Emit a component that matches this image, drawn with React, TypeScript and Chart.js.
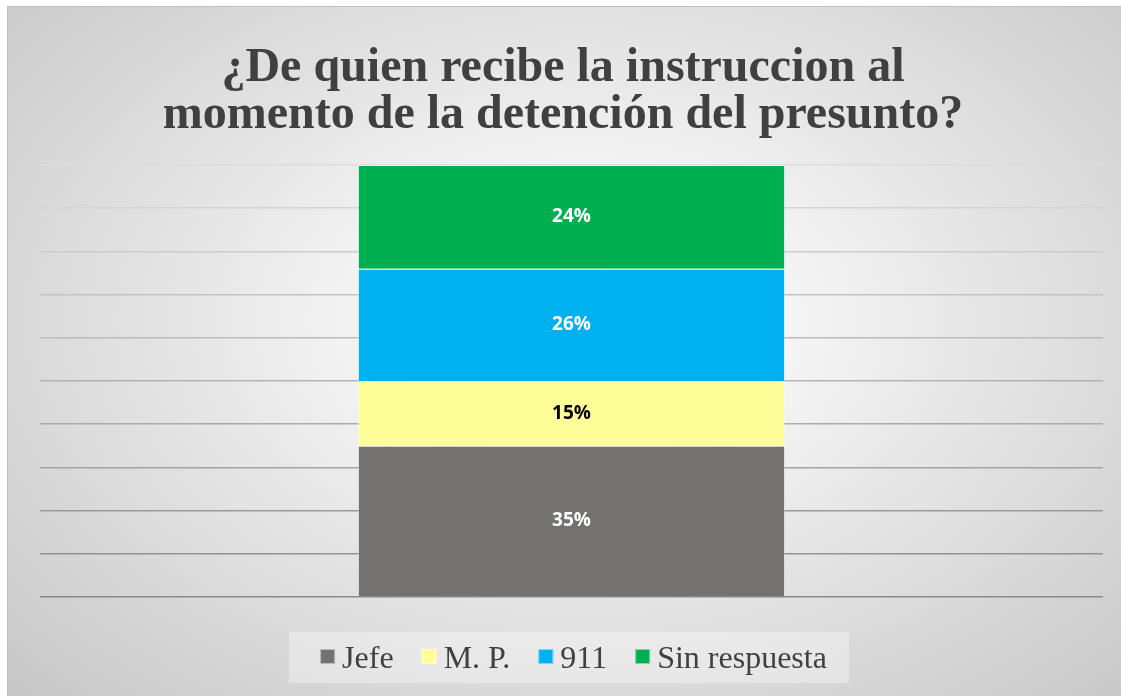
import React, { useEffect, useRef } from "react";
import { Chart, registerables } from "chart.js";

Chart.register(...registerables);

const titleLines = ["¿De quien recibe la instruccion al", "momento de la detención del presunto?"];
const categories = [""];
const seriesNames = ["Jefe", "M. P.", "911", "Sin respuesta"];
const seriesValues = [[35], [15], [26], [24]];
const seriesColors = ["#767171", "#FFFF99", "#00B0F0", "#00B050"];
const labelColors = ["#FFFFFF", "#000000", "#FFFFFF", "#FFFFFF"];
const yTicks = [0, 10, 20, 30, 40, 50, 60, 70, 80, 90, 100];

const CW = 1127;
const CH = 698;

function lerpGrey(t: number) {
  const a = 0x8a, b = 0xdc;
  const v = Math.round(a + (b - a) * t);
  return `rgb(${v},${v},${v})`;
}

const decorPlugin = {
  id: "decor",
  beforeDraw(chart: any) {
    const ctx = chart.ctx;
    ctx.save();
    ctx.fillStyle = "rgba(255,255,255,0.35)";
    ctx.fillRect(281, 625, 560, 51);
    ctx.restore();
  },
  afterDraw(chart: any) {
    const ctx = chart.ctx;
    ctx.save();
    ctx.fillStyle = "#404040";
    ctx.font = "bold 48px 'Liberation Serif', 'Times New Roman', serif";
    ctx.textAlign = "center";
    ctx.textBaseline = "alphabetic";
    ctx.fillText(titleLines[0], 555, 74);
    ctx.fillText(titleLines[1], 555, 121);

    ctx.font = "32px 'Liberation Serif', 'Times New Roman', serif";
    ctx.textAlign = "left";
    const box = 15, gapBT = 7, gapItem = 28;
    const widths = seriesNames.map((n) => ctx.measureText(n).width);
    const total = widths.reduce((s, w) => s + box + gapBT + w, 0) + gapItem * (seriesNames.length - 1);
    let x = 565.5 - total / 2;
    seriesNames.forEach((n, i) => {
      ctx.fillStyle = seriesColors[i];
      ctx.fillRect(x, 642, box, box);
      ctx.strokeStyle = "rgba(255,255,255,0.5)";
      ctx.lineWidth = 1;
      ctx.strokeRect(x + 0.5, 642.5, box - 1, box - 1);
      ctx.fillStyle = "#404040";
      ctx.fillText(n, x + box + gapBT, 661);
      x += box + gapBT + widths[i] + gapItem;
    });
    ctx.restore();
  },
  afterDatasetsDraw(chart: any) {
    const ctx = chart.ctx;
    ctx.save();
    ctx.font = "bold 19px 'Open Sans', sans-serif";
    ctx.textAlign = "center";
    ctx.textBaseline = "middle";
    chart.data.datasets.forEach((ds: any, i: number) => {
      const meta = chart.getDatasetMeta(i);
      meta.data.forEach((el: any, j: number) => {
        ctx.fillStyle = labelColors[i];
        ctx.fillText(ds.data[j] + "%", el.x, (el.y + el.base) / 2);
      });
    });
    ctx.restore();
  },
};

export default function App() {
  const ref = useRef<HTMLCanvasElement | null>(null);
  useEffect(() => {
    if (!ref.current) return;
    const chart = new Chart(ref.current, {
      type: "bar",
      data: {
        labels: categories,
        datasets: seriesNames.map((n, i) => ({
          label: n,
          data: seriesValues[i],
          backgroundColor: seriesColors[i],
          borderColor: "rgba(255,255,255,0.45)",
          borderWidth: 1,
          barPercentage: 0.402,
          categoryPercentage: 1,
        })),
      },
      options: {
        responsive: false,
        animation: false,
        events: [],
        layout: { padding: { left: 32, right: 32, top: 158, bottom: 108 } },
        plugins: {
          legend: { display: false },
          title: { display: false },
          tooltip: { enabled: false },
        },
        scales: {
          x: { stacked: true, display: false },
          y: {
            stacked: true,
            min: yTicks[0],
            max: yTicks[yTicks.length - 1],
            afterBuildTicks: (scale: any) => {
              scale.ticks = yTicks.map((v) => ({ value: v }));
            },
            ticks: { display: false },
            border: { display: false },
            grid: {
              drawTicks: false,
              lineWidth: 1.5,
              color: (c: any) => lerpGrey((c.tick ? c.tick.value : 0) / 100),
            },
          },
        },
      },
      plugins: [decorPlugin],
    });
    return () => chart.destroy();
  }, []);

  return (
    <div style={{ position: "fixed", left: 0, top: 0, width: 1121, height: 696, overflow: "hidden", background: "#fff" }}>
      <div
        style={{
          position: "absolute",
          left: 7,
          top: 6,
          width: 1129,
          height: 700,
          boxSizing: "border-box",
          border: "1px solid #c0c0c0",
          background:
            "radial-gradient(ellipse farthest-corner at 51% 45%, #ffffff 0%, #f7f7f7 22%, #e2e2e2 55%, #c6c6c6 100%)",
        }}
      >
        <canvas ref={ref} width={CW} height={CH} style={{ display: "block" }} />
      </div>
    </div>
  );
}
